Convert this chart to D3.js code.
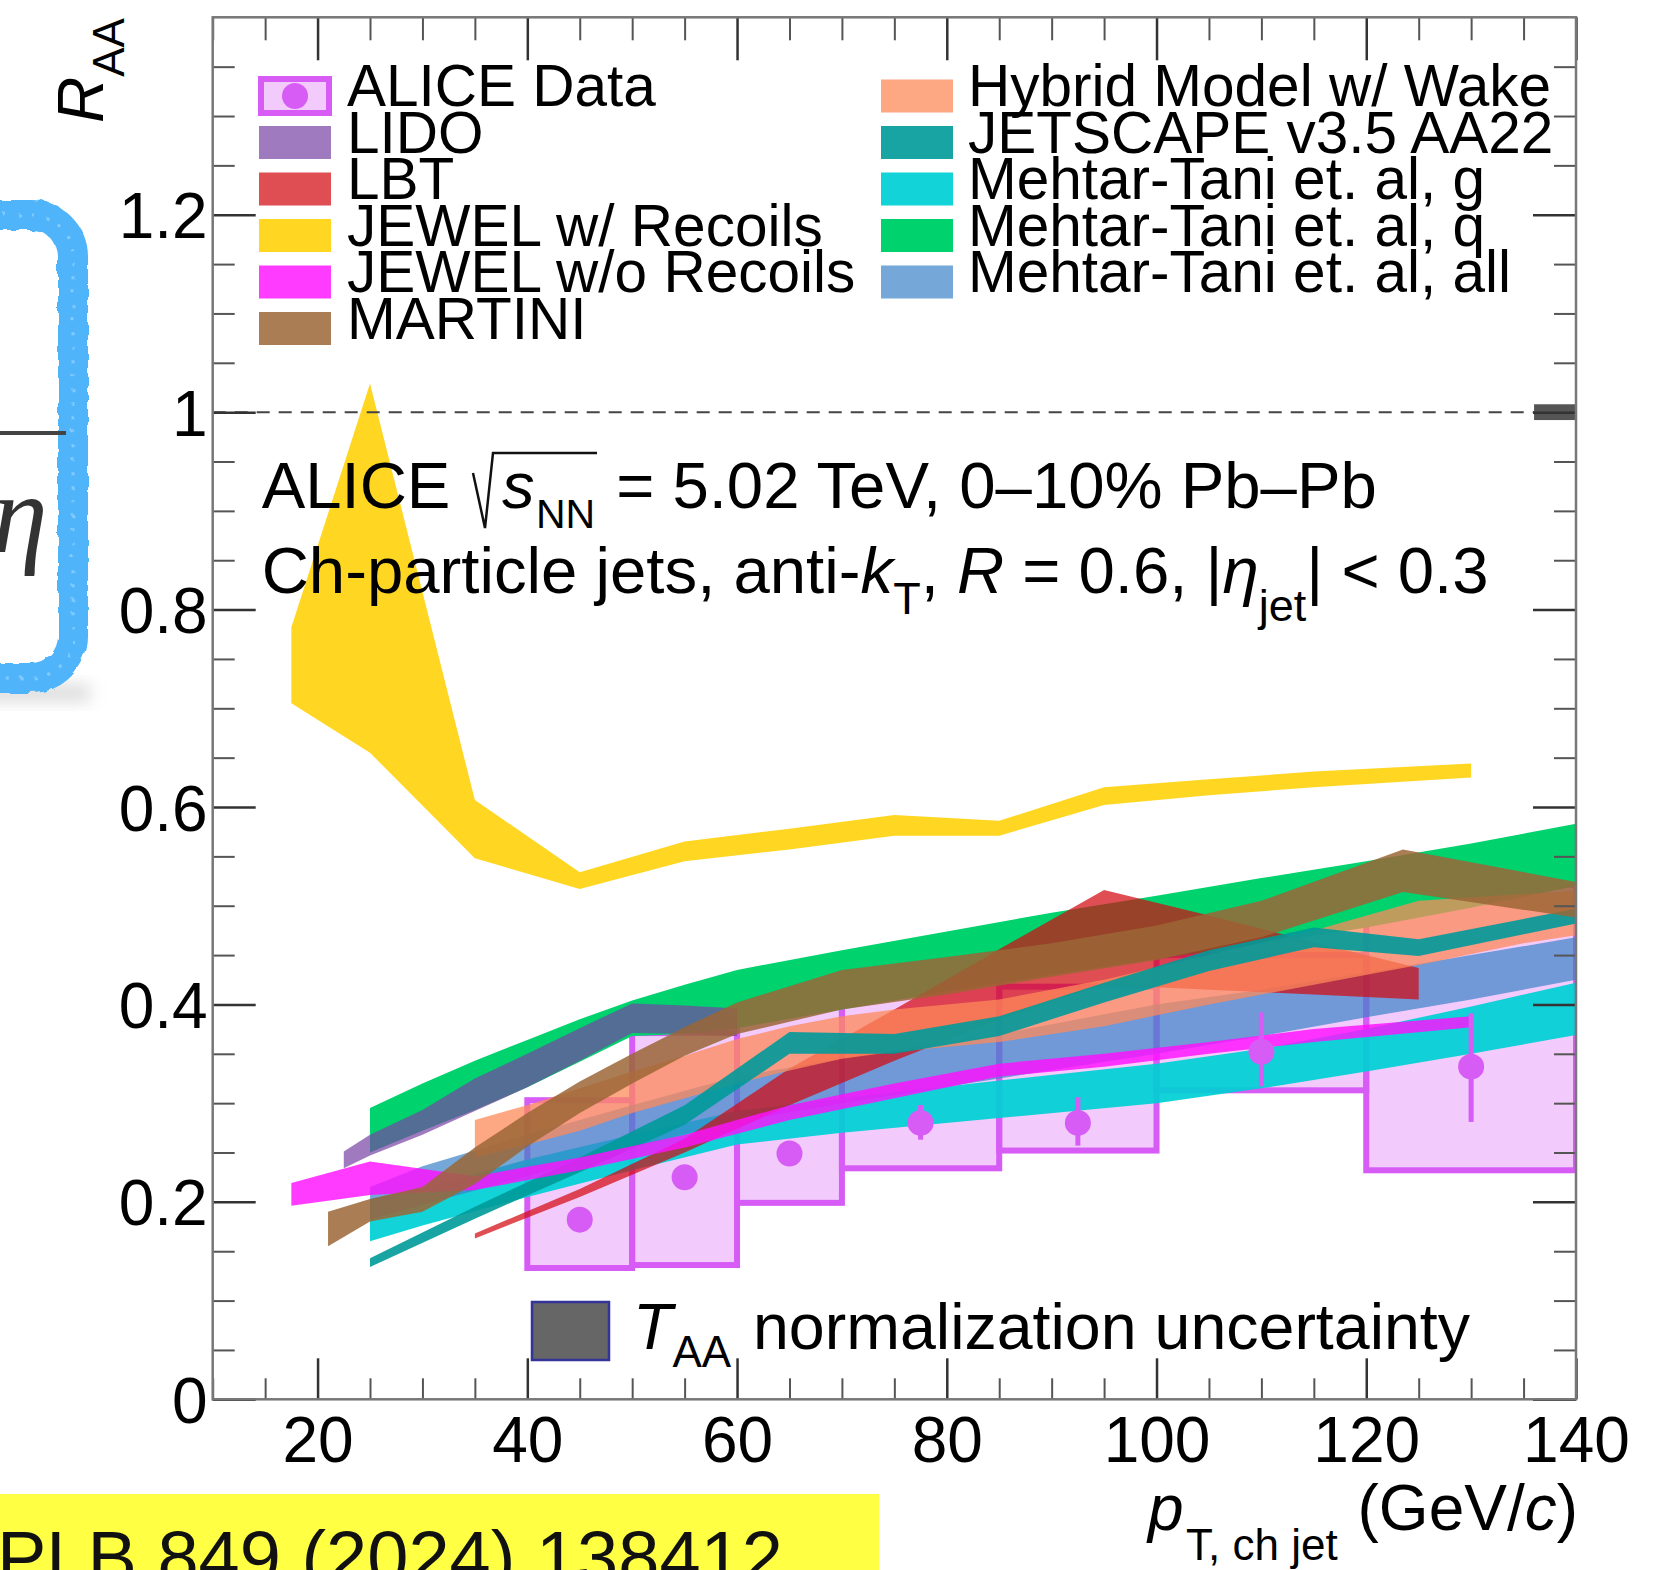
<!DOCTYPE html>
<html><head><meta charset="utf-8">
<script src="https://cdn.jsdelivr.net/npm/d3@7"></script>
<style>html,body{margin:0;padding:0;background:#fff;} svg{display:block;} text{white-space:pre;}</style>
</head><body>
<script>
// ---------------- DATA ----------------
const xTickVals = [20, 40, 60, 80, 100, 120, 140];
const xTickLabels = ["20", "40", "60", "80", "100", "120", "140"];
const yTickVals = [0, 0.2, 0.4, 0.6, 0.8, 1.0, 1.2];
const yTickLabels = ["0", "0.2", "0.4", "0.6", "0.8", "1", "1.2"];

// ALICE data
const binLo = [40, 50, 60, 70, 85, 100, 120];
const binHi = [50, 60, 70, 85, 100, 120, 140];
const raa = [0.182, 0.225, 0.249, 0.280, 0.280, 0.352, 0.337];
const statUp = [0.008, 0.008, 0.008, 0.018, 0.026, 0.040, 0.054];
const statDn = [0.008, 0.008, 0.008, 0.017, 0.023, 0.035, 0.056];
const sysLo = [0.133, 0.136, 0.199, 0.234, 0.252, 0.313, 0.232];
const sysHi = [0.303, 0.371, 0.400, 0.440, 0.418, 0.450, 0.521];

// TAA normalization uncertainty
const taaPt = [136, 140];
const taaLo = 0.992, taaHi = 1.008;

// Models (pT nodes, lower edge, upper edge)
const jewelRecPt = [17.5, 25, 35, 45, 55, 65, 75, 85, 95, 105, 115, 130];
const jewelRecLo = [0.705, 0.655, 0.548, 0.517, 0.545, 0.557, 0.571, 0.571, 0.602, 0.612, 0.620, 0.630];
const jewelRecHi = [0.782, 1.029, 0.607, 0.534, 0.565, 0.578, 0.592, 0.586, 0.620, 0.628, 0.636, 0.644];

const mtqPt = [25, 30, 35, 40, 45, 50, 55, 60, 70, 80, 90, 100, 110, 120, 130, 140];
const mtqLo = [0.250, 0.272, 0.293, 0.316, 0.342, 0.368, 0.370, 0.376, 0.395, 0.413, 0.430, 0.446, 0.461, 0.478, 0.498, 0.520];
const mtqHi = [0.295, 0.320, 0.343, 0.364, 0.385, 0.404, 0.420, 0.435, 0.455, 0.474, 0.493, 0.510, 0.528, 0.545, 0.563, 0.583];

const mtgPt = [25, 30, 40, 50, 60, 70, 85, 100, 110, 120, 130, 140];
const mtgLo = [0.160, 0.176, 0.205, 0.232, 0.258, 0.270, 0.285, 0.300, 0.315, 0.332, 0.350, 0.369];
const mtgHi = [0.203, 0.214, 0.243, 0.268, 0.292, 0.305, 0.323, 0.340, 0.355, 0.375, 0.398, 0.422];

const mtaPt = [25, 30, 40, 50, 60, 70, 85, 100, 110, 120, 130, 140];
const mtaLo = [0.182, 0.197, 0.226, 0.255, 0.282, 0.300, 0.325, 0.350, 0.368, 0.387, 0.405, 0.425];
const mtaHi = [0.215, 0.236, 0.268, 0.298, 0.327, 0.345, 0.370, 0.400, 0.415, 0.432, 0.450, 0.468];

const lidoPt = [22.5, 25, 30, 35, 40, 45, 50, 55, 60];
const lidoLo = [0.234, 0.247, 0.268, 0.292, 0.316, 0.343, 0.371, 0.370, 0.368];
const lidoHi = [0.251, 0.268, 0.293, 0.325, 0.350, 0.376, 0.401, 0.399, 0.396];

const lbtPt = [35, 45, 55, 65, 75, 85, 95, 105, 115, 125];
const lbtLo = [0.163, 0.205, 0.250, 0.298, 0.343, 0.385, 0.420, 0.415, 0.410, 0.405];
const lbtHi = [0.168, 0.213, 0.264, 0.335, 0.395, 0.456, 0.516, 0.490, 0.463, 0.437];

const hybPt = [35, 40, 45, 50, 55, 60, 65, 70, 75, 85, 95, 105, 115, 125, 135, 140];
const hybLo = [0.245, 0.258, 0.272, 0.290, 0.305, 0.320, 0.333, 0.345, 0.352, 0.362, 0.378, 0.400, 0.420, 0.440, 0.462, 0.470];
const hybHi = [0.283, 0.298, 0.315, 0.332, 0.348, 0.365, 0.378, 0.388, 0.395, 0.405, 0.425, 0.450, 0.475, 0.505, 0.512, 0.515];

const jsPt = [25, 35, 45, 55, 65, 75, 85, 95, 105, 115, 125, 140];
const jsLo = [0.134, 0.183, 0.230, 0.278, 0.350, 0.350, 0.368, 0.402, 0.434, 0.458, 0.449, 0.482];
const jsHi = [0.143, 0.195, 0.245, 0.298, 0.372, 0.370, 0.388, 0.422, 0.455, 0.478, 0.466, 0.497];

const jwoPt = [17.5, 25, 35, 45, 55, 65, 75, 85, 95, 105, 115, 130];
const jwoLo = [0.196, 0.207, 0.212, 0.232, 0.255, 0.283, 0.305, 0.327, 0.337, 0.350, 0.362, 0.377];
const jwoHi = [0.219, 0.241, 0.226, 0.245, 0.268, 0.298, 0.320, 0.340, 0.350, 0.362, 0.375, 0.388];

const martPt = [21, 25, 30, 35, 40, 45, 50, 55, 60, 70, 80, 90, 100, 110, 123.5, 140];
const martLo = [0.155, 0.180, 0.190, 0.218, 0.256, 0.290, 0.320, 0.348, 0.370, 0.395, 0.410, 0.428, 0.445, 0.468, 0.514, 0.488];
const martHi = [0.190, 0.203, 0.215, 0.255, 0.290, 0.322, 0.350, 0.377, 0.402, 0.435, 0.448, 0.462, 0.480, 0.505, 0.557, 0.524];

const legendLeft = ["ALICE Data", "LIDO", "LBT", "JEWEL w/ Recoils", "JEWEL w/o Recoils", "MARTINI"];
const legendRight = ["Hybrid Model w/ Wake", "JETSCAPE v3.5 AA22", "Mehtar-Tani et. al, g", "Mehtar-Tani et. al, q", "Mehtar-Tani et. al, all"];

// ---------------- DRAWING ----------------
const W = 1659, H = 1570;
const FONT = "'Liberation Sans', Arial, Helvetica, sans-serif";
const svg = d3.select("body").append("svg").attr("width", W).attr("height", H)
  .attr("font-family", FONT);

const x = d3.scaleLinear().domain([10, 140]).range([212.7, 1576]);
const y = d3.scaleLinear().domain([0, 1.4]).range([1399.3, 17.3]);

const defs = svg.append("defs");
defs.append("clipPath").attr("id", "frame").append("rect")
  .attr("x", x(10)).attr("y", y(1.4)).attr("width", x(140) - x(10)).attr("height", y(0) - y(1.4));
const blur = defs.append("filter").attr("id", "blur").attr("x", "-50%").attr("y", "-50%").attr("width", "200%").attr("height", "200%");
blur.append("feGaussianBlur").attr("stdDeviation", 8);
const rough = defs.append("filter").attr("id", "rough").attr("x", "-10%").attr("y", "-10%").attr("width", "120%").attr("height", "120%");
rough.append("feTurbulence").attr("type", "fractalNoise").attr("baseFrequency", 0.08).attr("numOctaves", 2).attr("seed", 3).attr("result", "n");
rough.append("feDisplacementMap").attr("in", "SourceGraphic").attr("in2", "n").attr("scale", 6);

// ---- decorations outside the plot (slide background) ----
svg.append("rect").attr("x", -20).attr("y", 684).attr("width", 110).attr("height", 18)
  .attr("fill", "#bbb").attr("opacity", 0.5).attr("filter", "url(#blur)");
svg.append("rect").attr("x", -80).attr("y", 215).attr("width", 153).attr("height", 463)
  .attr("rx", 42).attr("fill", "none").attr("stroke", "#4fb4fa").attr("stroke-width", 30)
  .attr("filter", "url(#rough)");
svg.append("rect").attr("x", -80).attr("y", 215).attr("width", 153).attr("height", 463)
  .attr("rx", 42).attr("fill", "none").attr("stroke", "#9ad6ff").attr("stroke-width", 3)
  .attr("stroke-dasharray", "3,11").attr("opacity", 0.7).attr("filter", "url(#rough)");
svg.append("line").attr("x1", 0).attr("x2", 66).attr("y1", 433).attr("y2", 433)
  .attr("stroke", "#444").attr("stroke-width", 4);
svg.append("text").attr("x", -8).attr("y", 552).attr("font-family", "'Liberation Serif', 'DejaVu Serif', serif")
  .attr("font-style", "italic").attr("font-size", 112).attr("fill", "#333").text("η");

svg.append("rect").attr("x", 0).attr("y", 1494).attr("width", 879).attr("height", 80).attr("fill", "#ffff44");
svg.append("text").attr("x", -3).attr("y", 1583).attr("font-size", 74).attr("fill", "#111")
  .text("PLB 849 (2024) 138412");

// ---- plot area ----
const plot = svg.append("g").attr("clip-path", "url(#frame)");

// data systematic boxes
const DATA_COL = "#d65cf5";
binLo.forEach((lo, i) => {
  plot.append("rect")
    .attr("x", x(lo)).attr("width", x(binHi[i]) - x(lo))
    .attr("y", y(sysHi[i])).attr("height", y(sysLo[i]) - y(sysHi[i]))
    .attr("fill", DATA_COL).attr("fill-opacity", 0.32)
    .attr("stroke", DATA_COL).attr("stroke-width", 6);
});

const area = d3.area().x(d => x(d[0])).y0(d => y(d[1])).y1(d => y(d[2]));
function band(pt, lo, hi, color, op) {
  plot.append("path").datum(pt.map((p, i) => [p, lo[i], hi[i]]))
    .attr("d", area).attr("fill", color).attr("fill-opacity", op);
}

const models = {
  mtq:  {color: "#00d26e", op: 1.0},
  lido: {color: "#7741a4", op: 0.7},
  mtg:  {color: "#00d0d4", op: 0.93},
  mta:  {color: "#3b81c7", op: 0.7},
  jrec: {color: "#ffd000", op: 0.87},
  lbt:  {color: "#d30a10", op: 0.72},
  hyb:  {color: "#fd8a5a", op: 0.75},
  js:   {color: "#009a9a", op: 0.9},
  jwo:  {color: "#ff10ff", op: 0.82},
  mart: {color: "#9b6636", op: 0.85}
};

band(mtqPt, mtqLo, mtqHi, models.mtq.color, models.mtq.op);
band(lidoPt, lidoLo, lidoHi, models.lido.color, models.lido.op);
band(mtgPt, mtgLo, mtgHi, models.mtg.color, models.mtg.op);
band(mtaPt, mtaLo, mtaHi, models.mta.color, models.mta.op);
band(jewelRecPt, jewelRecLo, jewelRecHi, models.jrec.color, models.jrec.op);
band(lbtPt, lbtLo, lbtHi, models.lbt.color, models.lbt.op);
band(hybPt, hybLo, hybHi, models.hyb.color, models.hyb.op);
band(jsPt, jsLo, jsHi, models.js.color, models.js.op);
band(jwoPt, jwoLo, jwoHi, models.jwo.color, models.jwo.op);
band(martPt, martLo, martHi, models.mart.color, models.mart.op);

// data points + stat errors
binLo.forEach((lo, i) => {
  const c = (lo + binHi[i]) / 2;
  plot.append("line").attr("x1", x(c)).attr("x2", x(c))
    .attr("y1", y(raa[i] + statUp[i])).attr("y2", y(raa[i] - statDn[i]))
    .attr("stroke", DATA_COL).attr("stroke-width", 5);
  plot.append("circle").attr("cx", x(c)).attr("cy", y(raa[i])).attr("r", 13).attr("fill", DATA_COL);
});

// dashed line at unity
svg.append("line").attr("x1", x(10)).attr("x2", x(140)).attr("y1", y(1)).attr("y2", y(1))
  .attr("stroke", "#444").attr("stroke-width", 2).attr("stroke-dasharray", "13,9");
// TAA normalization box
svg.append("rect").attr("x", x(taaPt[0])).attr("width", x(taaPt[1]) - x(taaPt[0]))
  .attr("y", y(taaHi)).attr("height", y(taaLo) - y(taaHi)).attr("fill", "#555");

// ---- axes ----
function styleAxis(g, col, width) {
  g.select(".domain").remove();
  g.selectAll(".tick line").attr("stroke", col).attr("stroke-width", width);
  g.attr("font-family", FONT).attr("font-size", 64);
  g.selectAll(".tick text").attr("fill", "#000");
}
const xMinorVals = d3.range(2, 29).map(i => i * 5).filter(v => v % 20 !== 0);
const yMinorVals = d3.range(1, 28).map(i => i * 0.05).filter((v, i) => (i + 1) % 4 !== 0);

// bottom
svg.append("g").attr("transform", `translate(0,${y(0)})`)
  .call(d3.axisBottom(x).tickValues(xTickVals).tickFormat((d, i) => xTickLabels[i]).tickSize(-41).tickPadding(17))
  .call(g => styleAxis(g, "#333", 2.5));
svg.append("g").attr("transform", `translate(0,${y(0)})`)
  .call(d3.axisBottom(x).tickValues(xMinorVals).tickFormat("").tickSize(-21))
  .call(g => styleAxis(g, "#555", 2));
// top
svg.append("g").attr("transform", `translate(0,${y(1.4)})`)
  .call(d3.axisTop(x).tickValues(xTickVals).tickFormat("").tickSize(-43))
  .call(g => styleAxis(g, "#333", 2.5));
svg.append("g").attr("transform", `translate(0,${y(1.4)})`)
  .call(d3.axisTop(x).tickValues(xMinorVals).tickFormat("").tickSize(-23))
  .call(g => styleAxis(g, "#555", 2));
// left
svg.append("g").attr("transform", `translate(${x(10)},0)`)
  .call(d3.axisLeft(y).tickValues(yTickVals).tickFormat((d, i) => yTickLabels[i]).tickSize(-43).tickPadding(5))
  .call(g => styleAxis(g, "#333", 2.5))
  .call(g => g.selectAll(".tick text").attr("dy", "0.36em"));
svg.append("g").attr("transform", `translate(${x(10)},0)`)
  .call(d3.axisLeft(y).tickValues(yMinorVals).tickFormat("").tickSize(-22))
  .call(g => styleAxis(g, "#555", 2));
// right
svg.append("g").attr("transform", `translate(${x(140)},0)`)
  .call(d3.axisRight(y).tickValues(yTickVals).tickFormat("").tickSize(-43))
  .call(g => styleAxis(g, "#333", 2.5));
svg.append("g").attr("transform", `translate(${x(140)},0)`)
  .call(d3.axisRight(y).tickValues(yMinorVals).tickFormat("").tickSize(-22))
  .call(g => styleAxis(g, "#555", 2));

// frame
svg.append("rect").attr("x", x(10)).attr("y", y(1.4)).attr("width", x(140) - x(10)).attr("height", y(0) - y(1.4))
  .attr("fill", "none").attr("stroke", "#777").attr("stroke-width", 2.5);

// axis titles
const yt = svg.append("text").attr("transform", "translate(103,123) rotate(-90)").attr("font-size", 64);
yt.append("tspan").attr("font-style", "italic").text("R");
yt.append("tspan").attr("font-size", 44).attr("dy", 21).text("AA");

svg.append("text").attr("x", 1148).attr("y", 1530).attr("font-size", 64).attr("font-style", "italic").text("p");
svg.append("text").attr("x", 1186).attr("y", 1560).attr("font-size", 44).text("T, ch jet");
const xt = svg.append("text").attr("x", 1578).attr("y", 1530).attr("font-size", 64).attr("text-anchor", "end");
xt.append("tspan").text("(GeV/");
xt.append("tspan").attr("font-style", "italic").text("c");
xt.append("tspan").text(")");

// ---- legend ----
const legPitch = 46.5, legBase0 = 106, legFont = 58.5;
legendLeft.forEach((name, i) => {
  const b = legBase0 + i * legPitch;
  svg.append("text").attr("x", 347).attr("y", b).attr("font-size", legFont).text(name);
});
legendRight.forEach((name, i) => {
  const b = legBase0 + i * legPitch;
  svg.append("text").attr("x", 968).attr("y", b).attr("font-size", legFont).text(name);
});
// swatches
const leftSw = [null, models.lido, models.lbt, models.jrec, models.jwo, models.mart];
const rightSw = [models.hyb, models.js, models.mtg, models.mtq, models.mta];
leftSw.forEach((m, i) => {
  const cy = legBase0 + i * legPitch - 10;
  if (m === null) {
    svg.append("rect").attr("x", 261).attr("y", cy - 17).attr("width", 68).attr("height", 34)
      .attr("fill", DATA_COL).attr("fill-opacity", 0.32).attr("stroke", DATA_COL).attr("stroke-width", 6);
    svg.append("circle").attr("cx", 295).attr("cy", cy).attr("r", 13).attr("fill", DATA_COL);
  } else {
    svg.append("rect").attr("x", 259).attr("y", cy - 16.5).attr("width", 72).attr("height", 33)
      .attr("fill", m.color).attr("fill-opacity", m.op);
  }
});
rightSw.forEach((m, i) => {
  const cy = legBase0 + i * legPitch - 10;
  svg.append("rect").attr("x", 881).attr("y", cy - 16.5).attr("width", 72).attr("height", 33)
    .attr("fill", m.color).attr("fill-opacity", m.op);
});

// ---- annotation text ----
const AF = 65.3;
svg.append("text").attr("x", 261.7).attr("y", 508).attr("font-size", AF).text("ALICE ");
svg.append("path").attr("d", "M473,473 L485,528 L493,453 L597,453")
  .attr("fill", "none").attr("stroke", "#111").attr("stroke-width", 2.5);
svg.append("text").attr("x", 502).attr("y", 508).attr("font-size", AF).attr("font-style", "italic").text("s");
svg.append("text").attr("x", 536).attr("y", 528).attr("font-size", 41).text("NN");
svg.append("text").attr("x", 598).attr("y", 508).attr("font-size", AF).text(" = 5.02 TeV, 0–10% Pb–Pb");

const t2 = svg.append("text").attr("x", 261.7).attr("y", 593).attr("font-size", AF);
t2.append("tspan").text("Ch-particle jets, anti-");
t2.append("tspan").attr("font-style", "italic").text("k");
t2.append("tspan").attr("font-size", 45).attr("dy", 21).text("T");
t2.append("tspan").attr("dy", -21).text(", ");
t2.append("tspan").attr("font-style", "italic").text("R");
t2.append("tspan").text(" = 0.6, |");
t2.append("tspan").attr("font-style", "italic").text("η");
t2.append("tspan").attr("font-size", 45).attr("dy", 28).text("jet");
t2.append("tspan").attr("dy", -28).text("| < 0.3");

// TAA legend
svg.append("rect").attr("x", 532).attr("y", 1302).attr("width", 77).attr("height", 58)
  .attr("fill", "#666").attr("stroke", "#33339a").attr("stroke-width", 2.5);
const t3 = svg.append("text").attr("x", 633).attr("y", 1349).attr("font-size", 64.5);
t3.append("tspan").attr("font-style", "italic").text("T");
t3.append("tspan").attr("font-size", 44).attr("dy", 18).text("AA");
svg.append("text").attr("x", 753).attr("y", 1349).attr("font-size", 64.5).text("normalization uncertainty");
</script>
</body></html>
